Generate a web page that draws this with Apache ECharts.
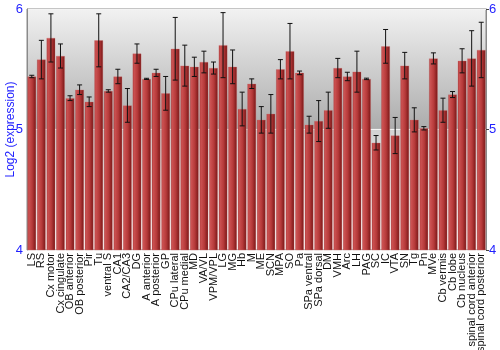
<!DOCTYPE html>
<html>
<head>
<meta charset="utf-8">
<script src="https://cdn.jsdelivr.net/npm/echarts@6/dist/echarts.min.js"></script>
<style>
html,body{margin:0;padding:0;background:#fff;}
#main{width:500px;height:350px;}
</style>
</head>
<body>
<div id="main"></div>
<script>
// regions
var regions = ['LS','RS','Cx motor','Cx cingulate','OB anterior','OB posterior','Pir','Tu','ventral S','CA1',
	'CA2/CA3','DG','A anterior','A posterior','GP','CPu lateral','CPu medial','MD','VA/VL','VPM/VPL',
	'LG','MG','Hb','M','ME','SCN','MPA','SO','Pa','SPa ventral','SPa dorsal','DM','VMH','Arc','LH',
	'PAG','SC','IC','VTA','SN','Tg','Pn','MVe','Cb vermis','Cb lobe','Cb nucleus',
	'spinal cord anterior','spinal cord posterior'];

// log2 expression
var values = [5.44,5.58,5.76,5.61,5.26,5.33,5.23,5.74,5.32,5.44,
	5.20,5.63,5.42,5.47,5.30,5.67,5.53,5.52,5.56,5.51,
	5.70,5.52,5.17,5.38,5.08,5.13,5.50,5.65,5.47,5.04,5.07,5.16,5.51,5.44,5.48,
	5.42,4.89,5.69,4.95,5.53,5.08,5.01,5.59,5.16,5.29,5.57,
	5.59,5.66];

// +/- error
var errors = [0.01,0.16,0.20,0.10,0.02,0.04,0.04,0.22,0.01,0.06,
	0.14,0.08,0.005,0.03,0.14,0.26,0.17,0.08,0.09,0.05,
	0.27,0.14,0.14,0.04,0.11,0.16,0.08,0.23,0.015,0.07,0.17,0.15,0.08,0.035,0.17,
	0.006,0.06,0.14,0.15,0.11,0.10,0.014,0.046,0.10,0.025,0.10,
	0.23,0.23];

var yTicks = [4, 5, 6];

var errData = values.map(function (v, i) {
	return [i, v - errors[i], v + errors[i]];
});

var blue = '#1f1fff';
var chart = echarts.init(document.getElementById('main'));

var option = {
	animation: false,
	textStyle: { fontFamily: 'Liberation Sans, Arial, sans-serif' },
	grid: {
		left: 27, right: 14, top: 9, bottom: 100,
		containLabel: false,
		outerBoundsMode: 'none',
		show: true,
		borderColor: '#8a8a8a',
		borderWidth: 1,
		backgroundColor: new echarts.graphic.LinearGradient(0, 0, 0, 1, [
			{ offset: 0, color: '#f2f2f2' },
			{ offset: 0.495, color: '#acacac' },
			{ offset: 0.5, color: '#d2d2d2' },
			{ offset: 1, color: '#ffffff' }
		])
	},
	xAxis: {
		type: 'category',
		data: regions,
		axisLine: { show: false },
		axisTick: { show: false },
		axisLabel: {
			rotate: 90,
			interval: 0,
			margin: 3,
			fontSize: 11,
			color: '#111'
		}
	},
	yAxis: [{
		type: 'value',
		min: yTicks[0], max: yTicks[yTicks.length - 1], interval: 1,
		name: 'Log2 (expression)',
		nameLocation: 'middle',
		nameGap: 16,
		nameMoveOverlap: false,
		nameTextStyle: { color: blue, fontSize: 12, verticalAlign: 'middle' },
		axisLine: { show: true, lineStyle: { color: '#8a8a8a' } },
		axisTick: { show: false },
		axisLabel: { color: blue, fontSize: 13, margin: 4 },
		splitLine: { show: true, lineStyle: { color: '#f4f4f4', width: 1 } }
	}, {
		type: 'value',
		min: yTicks[0], max: yTicks[yTicks.length - 1], interval: 1,
		position: 'right',
		axisLine: { show: true, lineStyle: { color: '#8a8a8a' } },
		axisTick: { show: true, length: 3, lineStyle: { color: '#444' } },
		axisLabel: { color: blue, fontSize: 13, margin: 3 },
		splitLine: { show: false }
	}],
	series: [{
		type: 'bar',
		data: values,
		barCategoryGap: '9%',
		itemStyle: {
			borderColor: 'rgba(210,110,110,0.6)',
			borderWidth: 0.5,
			color: new echarts.graphic.LinearGradient(0, 0, 1, 0, [
				{ offset: 0, color: '#9a2828' },
				{ offset: 0.15, color: '#cc5252' },
				{ offset: 0.55, color: '#b63a3a' },
				{ offset: 1, color: '#761515' }
			])
		},
		z: 2
	}, {
		type: 'custom',
		data: errData,
		z: 3,
		renderItem: function (params, api) {
			var x = api.value(0);
			var lo = api.coord([x, api.value(1)]);
			var hi = api.coord([x, api.value(2)]);
			var w = 2.5;
			var st = { stroke: '#111', lineWidth: 1 };
			return {
				type: 'group',
				children: [
					{ type: 'line', shape: { x1: hi[0], y1: hi[1], x2: lo[0], y2: lo[1] }, style: st },
					{ type: 'line', shape: { x1: hi[0] - w, y1: hi[1], x2: hi[0] + w, y2: hi[1] }, style: st },
					{ type: 'line', shape: { x1: lo[0] - w, y1: lo[1], x2: lo[0] + w, y2: lo[1] }, style: st }
				]
			};
		}
	}]
};
chart.setOption(option);
</script>
</body>
</html>
